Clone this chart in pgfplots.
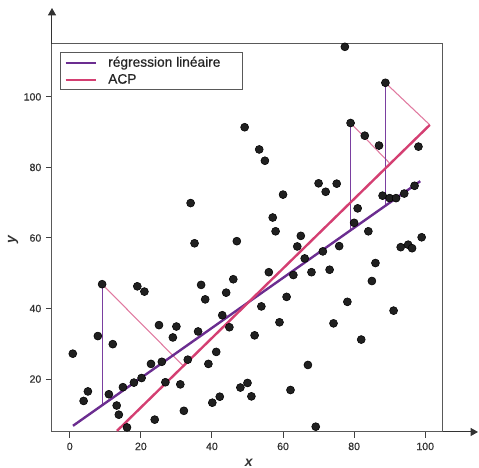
\documentclass[border=0pt]{standalone}
\usepackage{pgfplots}
\pgfplotsset{compat=1.18}
\usepackage{pgfplotstable}
\usepackage{fontspec}
\setmainfont{Liberation Sans}
\newfontfamily\medfont[FakeBold=0.6]{Liberation Sans}
\usetikzlibrary{arrows.meta}

\definecolor{regcol}{HTML}{6B2D90}
\definecolor{acpcol}{HTML}{D43F72}
\definecolor{projreg}{HTML}{7A3FA0}
\definecolor{projacp}{HTML}{E07AA0}
\definecolor{pointcol}{HTML}{202020}

% nuage de points
\pgfplotstableread{
x y
0.85 27.2
3.9 13.8
5.1 16.5
7.9 32.2
9.1 46.9
11.0 15.7
12.1 29.9
13.2 12.5
13.8 9.9
14.95 17.7
16.1 6.3
18.05 19.0
19.0 46.3
20.2 20.3
21.0 44.8
22.85 24.3
23.9 8.5
25.1 35.3
25.9 24.9
26.9 19.1
29.0 31.8
30.0 34.9
31.1 18.5
32.1 11.0
33.2 25.5
34.0 69.9
35.1 58.5
36.1 33.5
36.95 46.7
38.1 42.6
39.0 24.3
40.1 13.3
41.2 27.7
42.2 15.0
42.9 38.1
44.0 44.5
44.9 34.7
46.0 48.3
47.0 59.1
48.0 17.6
49.2 91.4
50.0 18.9
51.1 15.1
52.0 32.4
53.3 85.1
53.9 40.6
54.9 81.9
56.0 50.3
57.1 65.8
57.9 61.9
59.0 36.1
60.0 72.3
61.0 43.3
62.1 16.9
62.9 49.5
64.0 57.6
65.0 60.6
66.1 54.2
67.0 24.0
68.0 50.3
69.2 6.5
70.0 75.5
71.2 56.2
72.0 73.1
73.1 51.0
74.2 35.8
75.1 75.4
75.8 57.7
77.4 114.2
78.1 41.9
79.0 92.6
80.0 64.3
81.0 68.4
82.0 31.2
83.0 89.0
84.0 61.9
85.0 47.8
86.0 52.9
87.0 86.2
88.0 72.0
88.8 104.0
90.0 71.3
91.1 39.4
91.8 71.3
93.1 57.4
94.1 72.6
95.2 58.1
96.3 57.1
97.0 74.8
98.1 85.9
99.0 60.2
}\points

\begin{document}
\begin{tikzpicture}
\begin{axis}[
    scale only axis,
    width=293.25pt, height=291pt,
    xmin=-5, xmax=105, ymin=5, ymax=115,
    clip=false,
    axis line style={draw=black!65, line width=0.75pt},
    tick pos=left,
    tick align=outside,
    major tick length=4.5pt,
    tick style={draw=black!75, line width=0.75pt},
    xtick={0,20,...,100},
    ytick={20,40,...,100},
    /pgf/number format/assume math mode=true,
    ticklabel style={font=\medfont\fontsize{7.9}{9}\selectfont, text=black!80},
    xlabel={\bfseries\itshape x},
    ylabel={\bfseries\itshape y},
    label style={font=\fontsize{10.5}{12}\selectfont, text=black!80},
    xlabel style={at={(rel axis cs:0.503,-0.08)}, anchor=center},
    ylabel style={at={(rel axis cs:-0.0997,0.497)}, anchor=center},
    legend cell align=left,
    legend style={at={(0.0205,0.979)}, anchor=north west,
        draw=black!65, line width=0.75pt,
        inner xsep=3pt, inner ysep=3pt,
        font=\medfont\fontsize{10.3}{12}\selectfont, text=black!85,
        row sep=4pt, column sep=8.8pt,
        nodes={inner sep=0pt}},
    legend image code/.code={\draw[#1, line width=1.5pt] (0pt,0pt) -- (22.5pt,0pt);},
]
% projections
\addplot[projreg, line width=0.8pt, forget plot] coordinates {(9.1,46.9) (9.1,12.57)};
\addplot[projacp, line width=0.8pt, forget plot] coordinates {(9.1,46.9) (31.95,23.71)};
\addplot[projreg, line width=0.8pt, forget plot] coordinates {(79.0,92.6) (79.0,62.19)};
\addplot[projacp, line width=0.8pt, forget plot] coordinates {(79.0,92.6) (89.8,81.4)};
\addplot[projreg, line width=0.8pt, forget plot] coordinates {(88.8,104.0) (88.8,69.14)};
\addplot[projacp, line width=0.8pt, forget plot] coordinates {(88.8,104.0) (101.3,92.06)};

% droites
\addplot[regcol, line width=1.8pt] coordinates {(0.9,6.75) (98.6,76.1)};
\addlegendentry{\makebox[97.7pt][l]{régression linéaire}}
\addplot[acpcol, line width=1.8pt] coordinates {(13.3,5.33) (101.3,92.06)};
\addlegendentry{ACP}

% points
\addplot[only marks, mark=*, mark size=3pt, draw=none, fill=pointcol, forget plot] table {\points};

% fleches des axes
\draw[black!80, line width=0.75pt, -{Triangle[width=6pt,length=5.5pt]}] (rel axis cs:0,1) -- (rel axis cs:0,1.0928);
\draw[black!80, line width=0.75pt, -{Triangle[width=6pt,length=5.5pt]}] (rel axis cs:1,0) -- (rel axis cs:1.0895,0);

\coordinate (bbsw) at (rel axis cs:-0.133,-0.0928);
\coordinate (bbne) at (rel axis cs:1.0921,1.1134);
\end{axis}
\pgfresetboundingbox
\path (bbsw) rectangle (bbne);
\end{tikzpicture}
\end{document}
